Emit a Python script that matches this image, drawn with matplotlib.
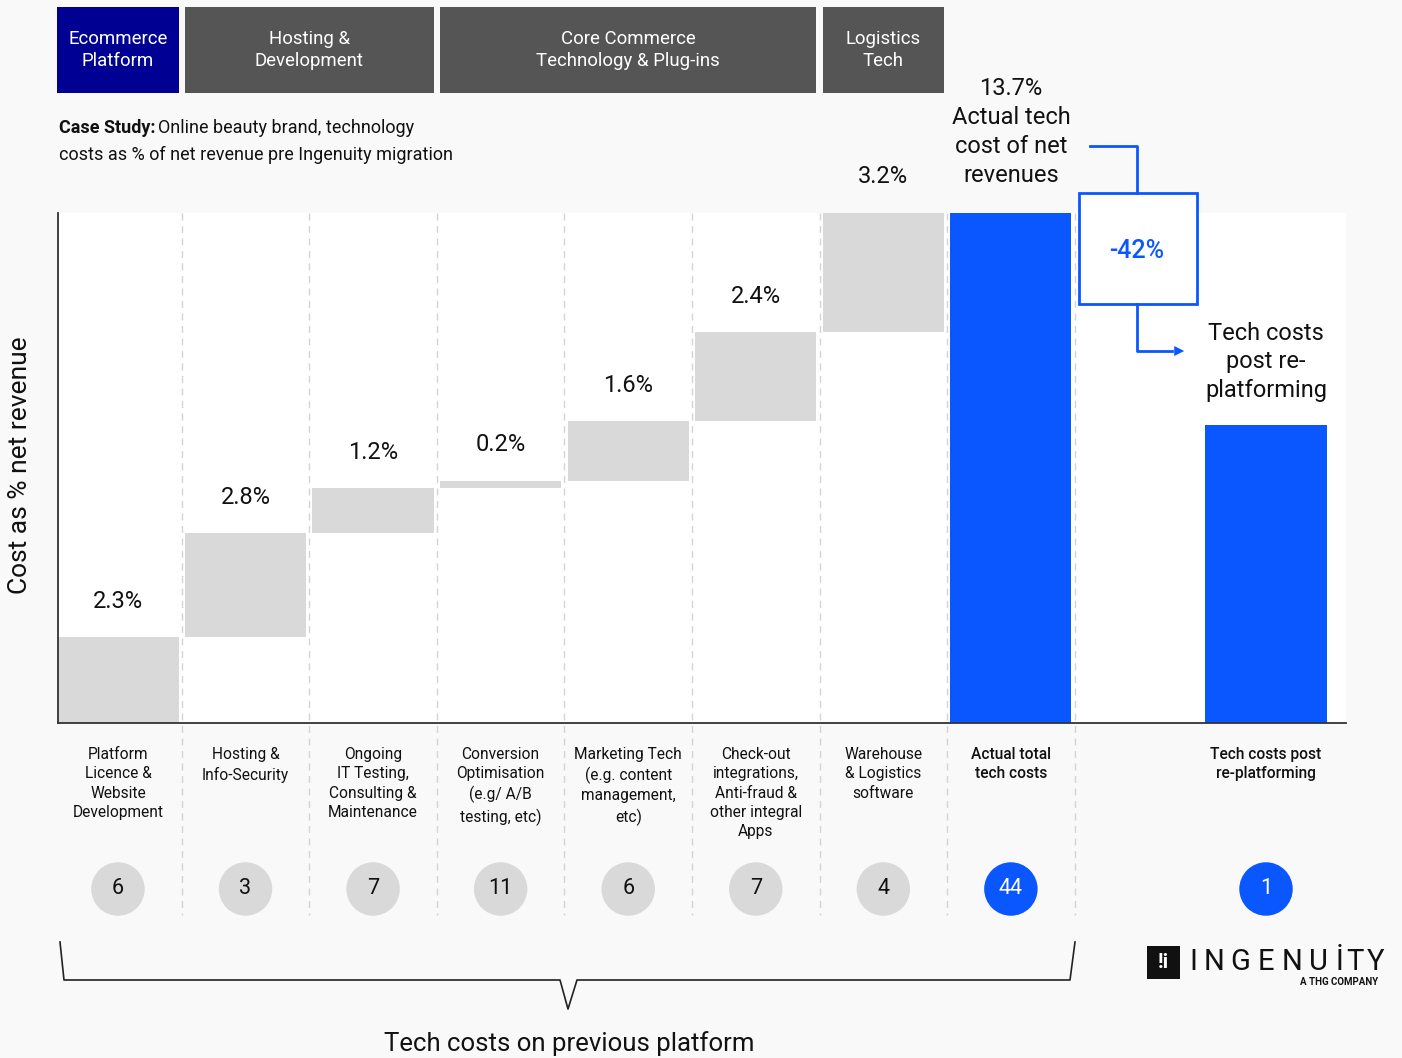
import matplotlib
matplotlib.use("Agg")
import matplotlib.pyplot as plt
from matplotlib.transforms import blended_transform_factory
from matplotlib.patches import Rectangle, FancyArrowPatch
from matplotlib.lines import Line2D

plt.rcParams['font.family'] = ['Roboto', 'DejaVu Sans']

# ---------------- data ----------------
categories = ["Platform\nLicence &\nWebsite\nDevelopment",
              "Hosting &\nInfo-Security",
              "Ongoing\nIT Testing,\nConsulting &\nMaintenance",
              "Conversion\nOptimisation\n(e.g/ A/B\ntesting, etc)",
              "Marketing Tech\n(e.g. content\nmanagement,\netc)",
              "Check-out\nintegrations,\nAnti-fraud &\nother integral\nApps",
              "Warehouse\n& Logistics\nsoftware"]
values = [2.3, 2.8, 1.2, 0.2, 1.6, 2.4, 3.2]
total_label = "Actual total\ntech costs"
total_value = 13.7
post_label = "Tech costs post\nre-platforming"
post_value = 8.0
change_pct = "-42%"
vendor_counts = [6, 3, 7, 11, 6, 7, 4]
total_vendors = 44
post_vendors = 1
header_labels = ["Ecommerce\nPlatform", "Hosting &\nDevelopment",
                 "Core Commerce\nTechnology & Plug-ins", "Logistics\nTech"]
header_spans = [(0, 0), (1, 2), (3, 5), (6, 6)]

# ---------------- style ----------------
W, H = 1402, 1058
BLUE = '#0b57ff'
NAVY = '#000092'
DARK = '#555555'
GREY = '#d9d9d9'
TXT = '#111111'

fig = plt.figure(figsize=(W / 100, H / 100), dpi=100, facecolor='#f9f9f9')

def fy(py):
    return 1 - py / H

def fx(px):
    return px / W

ax = fig.add_axes([fx(58), fy(723), fx(1346) - fx(58), fy(213) - fy(723)])
ax.set_facecolor('white')
ax.set_ylim(0, total_value)
ax.set_xlim(-0.47, 9.627)
for s in ['top', 'right']:
    ax.spines[s].set_visible(False)
for s in ['left', 'bottom']:
    ax.spines[s].set_color('#333333')
    ax.spines[s].set_linewidth(1.3)
ax.set_xticks([])
ax.set_yticks([])

bw = 0.95
n = len(values)
xs = list(range(n))
bottoms = []
c = 0
for v in values:
    bottoms.append(c)
    c += v
ax.bar(xs, values, bottom=bottoms, width=bw, color=GREY, zorder=2)
total_x = n
post_x = n + 2
ax.bar([total_x], [total_value], width=bw, color=BLUE, zorder=2)
ax.bar([post_x], [post_value], width=bw, color=BLUE, zorder=2)

# value labels
for x, b, v in zip(xs, bottoms, values):
    ax.annotate(f"{v}%", (x, b + v), xytext=(0, 26), textcoords='offset points',
                ha='center', va='center', fontsize=17, color=TXT)

bt = blended_transform_factory(ax.transData, fig.transFigure)

fig.text(total_x, fy(132), f"{total_value}%\nActual tech\ncost of net\nrevenues", transform=bt,
         ha='center', va='center', fontsize=17, color=TXT, linespacing=1.33)

# dashed separators
for i in range(n + 1):
    ax.plot([i + 0.5, i + 0.5], [total_value, -5.16], color='#d4d4d4', lw=1,
            ls=(0, (5, 4)), clip_on=False, zorder=1)

# header boxes
for lab, (a, b) in zip(header_labels, header_spans):
    x0 = a - bw / 2
    x1 = b + bw / 2
    col = NAVY if a == 0 else DARK
    fig.patches.append(Rectangle((x0, fy(93)), x1 - x0, fy(7) - fy(93), transform=bt,
                                 facecolor=col, edgecolor='none'))
    fig.text((x0 + x1) / 2, fy(50), lab, transform=bt, ha='center', va='center',
             color='white', fontsize=13.4, linespacing=1.32)

# case study text
fig.text(fx(59), fy(128), "Case Study:", fontweight='bold', fontsize=13, va='center', color=TXT)
fig.text(fx(158), fy(128), "Online beauty brand, technology", fontsize=13, va='center', color=TXT)
fig.text(fx(59), fy(155), "costs as % of net revenue pre Ingenuity migration", fontsize=13,
         va='center', color=TXT)

# y label
fig.text(fx(20), fy(465), "Cost as % net revenue", rotation=90, ha='center', va='center',
         fontsize=19, color=TXT)

# category labels
for x, lab in zip(xs, categories):
    fig.text(x, fy(747), lab, transform=bt, ha='center', va='top', fontsize=11.2,
             color=TXT, linespacing=1.36)
fig.text(total_x, fy(747), total_label, transform=bt, ha='center', va='top', fontsize=11.2,
         color=TXT, linespacing=1.36, fontweight='medium')
fig.text(post_x, fy(747), post_label, transform=bt, ha='center', va='top', fontsize=11.2,
         color=TXT, linespacing=1.36, fontweight='medium')

# vendor count circles
cx = xs + [total_x, post_x]
cn = vendor_counts + [total_vendors, post_vendors]
cc = [GREY] * n + [BLUE, BLUE]
tc = [TXT] * n + ['white', 'white']
circ_y = [fy(889)] * len(cx)
ax.scatter(cx, circ_y, s=38.5 ** 2, c=cc, transform=bt, clip_on=False, zorder=3,
           linewidths=0)
for x, num, t in zip(cx, cn, tc):
    fig.text(x, fy(889), str(num), transform=bt, ha='center', va='center', fontsize=15.5,
             color=t, zorder=4)

# -42% box & connectors
fig.patches.append(Rectangle((fx(1079), fy(304)), fx(1197) - fx(1079), fy(193) - fy(304),
                             transform=fig.transFigure, facecolor='white', edgecolor=BLUE,
                             linewidth=2))
fig.text(fx(1137), fy(251), change_pct, ha='center', va='center', fontsize=18, color=BLUE,
         fontweight='medium')
fig.lines.append(Line2D([fx(1090), fx(1137), fx(1137)], [fy(146), fy(146), fy(193)],
                        transform=fig.transFigure, color=BLUE, lw=2))
fig.lines.append(Line2D([fx(1137), fx(1137), fx(1172)], [fy(304), fy(351), fy(351)],
                        transform=fig.transFigure, color=BLUE, lw=2))
fig.patches.append(FancyArrowPatch((fx(1166), fy(351)), (fx(1187), fy(351)),
                                   transform=fig.transFigure, arrowstyle='-|>',
                                   mutation_scale=18, color=BLUE, lw=0))
fig.text(post_x, fy(362), "Tech costs\npost re-\nplatforming", transform=bt, ha='center',
         va='center', fontsize=17, color=TXT, linespacing=1.33)

# bracket
bx = [60, 64, 560, 568, 577, 1070, 1075]
by = [942, 980, 980, 1009, 980, 980, 942]
fig.lines.append(Line2D([fx(v) for v in bx], [fy(v) for v in by], transform=fig.transFigure,
                        color='#222222', lw=1.2))
fig.text(fx(569), fy(1044), "Tech costs on previous platform", ha='center', va='center',
         fontsize=18.5, color=TXT)

# logo
fig.patches.append(Rectangle((fx(1147), fy(979)), fx(1180) - fx(1147), fy(946) - fy(979),
                             transform=fig.transFigure, facecolor='#111111', edgecolor='none'))
fig.text(fx(1163.5), fy(963), "!i", ha='center', va='center', fontsize=15, color='white',
         fontweight='bold')
letters = ["I", "N", "G", "E", "N", "U", "İ", "T", "Y"]
lx = [1193, 1214, 1240, 1266, 1292, 1318, 1340, 1355, 1376]
for L, x in zip(letters, lx):
    fig.text(fx(x), fy(962), L, ha='center', va='center', fontsize=21, color='#111111')
fig.text(fx(1378), fy(982), "A THG COMPANY", ha='right', va='center', fontsize=7,
         color='#111111', fontweight='bold')

fig.savefig("out.png", dpi=100, facecolor=fig.get_facecolor())
